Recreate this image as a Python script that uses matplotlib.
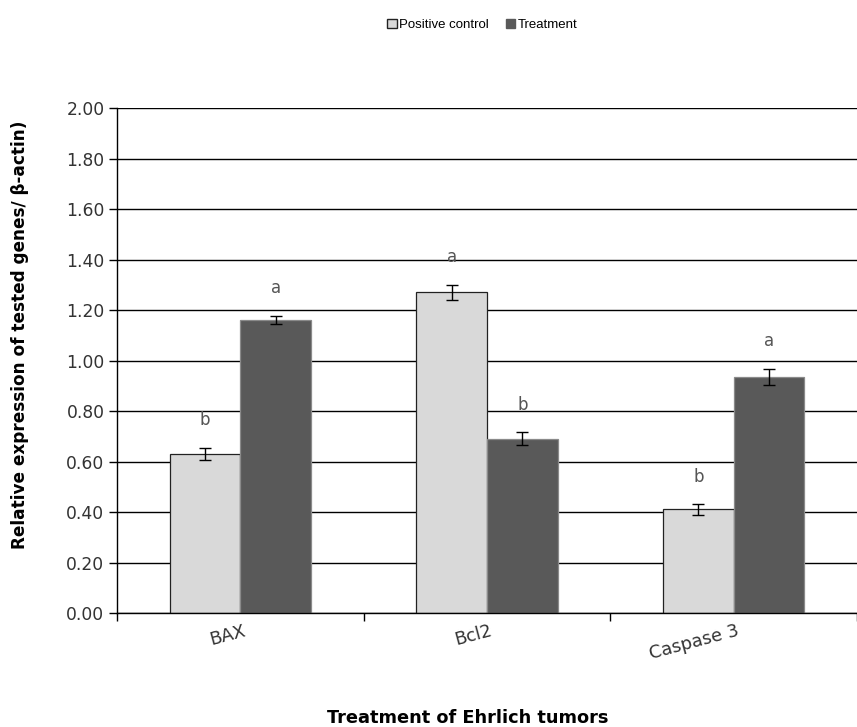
import numpy as np
import matplotlib.pyplot as plt
from matplotlib.patches import Patch

plt.rcParams['font.family'] = ['DejaVu Sans']

# Data
genes = ['BAX', 'Bcl2', 'Caspase 3']
positive_control = [0.63, 1.27, 0.41]
positive_err = [0.025, 0.03, 0.02]
treatment = [1.16, 0.69, 0.935]
treatment_err = [0.017, 0.025, 0.032]
pc_letters = ['b', 'a', 'b']
tr_letters = ['a', 'b', 'a']

x = np.arange(len(genes))
w = 0.286

fig = plt.figure(figsize=(8.57, 7.27), dpi=100)
ax = fig.add_axes([0.1365, 0.1568, 0.8635, 0.6946])

ax.set_axisbelow(True)
ax.yaxis.grid(True, color='black', linewidth=1.0)
ax.bar(x - w / 2, positive_control, w, color='#d9d9d9', edgecolor='#222222',
       linewidth=0.9, yerr=positive_err, capsize=4,
       error_kw=dict(elinewidth=1, capthick=1, ecolor='black'), zorder=2)
ax.bar(x + w / 2, treatment, w, color='#595959', edgecolor='#8a8a8a',
       linewidth=0.9, yerr=treatment_err, capsize=4,
       error_kw=dict(elinewidth=1, capthick=1, ecolor='black'), zorder=2)

# significance letters
for i in range(len(genes)):
    ax.text(x[i] - w / 2, positive_control[i] + positive_err[i] + 0.11, pc_letters[i],
            ha='center', va='center', fontsize=12, color='#555555')
    ax.text(x[i] + w / 2, treatment[i] + treatment_err[i] + 0.11, tr_letters[i],
            ha='center', va='center', fontsize=12, color='#555555')

ax.set_ylim(0, 2.0)
ax.set_yticks(np.arange(0, 2.01, 0.2))
ax.set_yticklabels(['%.2f' % v for v in np.arange(0, 2.01, 0.2)], fontsize=12.3, color='#333333')
ax.set_xlim(-0.488, 2.449)
ax.set_xticks([-0.5, 0.5, 1.5, 2.5])
ax.set_xticklabels([])
ax.tick_params(axis='x', length=6, width=1, direction='out')
ax.tick_params(axis='y', length=6, width=1, direction='out', pad=3)
for i, g in enumerate(genes):
    ax.text(x[i] + 0.01, -0.035, g, rotation=15, ha='right', va='top',
            rotation_mode='anchor', fontsize=12.8, color='#333333', clip_on=False)

ax.spines['top'].set_visible(False)
ax.spines['right'].set_visible(False)
ax.spines['left'].set_linewidth(1)
ax.spines['bottom'].set_linewidth(1)

fig.text(0.023, 0.54, 'Relative expression of tested genes/ \u03b2-actin)', rotation=90,
         ha='center', va='center', fontsize=12.2, fontweight='bold')
fig.text(0.546, 0.013, 'Treatment of Ehrlich tumors', ha='center', va='center',
         fontsize=12.8, fontweight='bold')

handles = [Patch(facecolor='#d9d9d9', edgecolor='#222222', label='Positive control'),
           Patch(facecolor='#595959', edgecolor='#595959', label='Treatment')]
fig.legend(handles=handles, loc='center', bbox_to_anchor=(0.563, 0.966), ncol=2,
           frameon=False, prop={'family': 'Liberation Sans', 'size': 9.5},
           handlelength=0.7, handleheight=0.7,
           handletextpad=0.2, columnspacing=1.3)

fig.savefig('out.png', dpi=100)
